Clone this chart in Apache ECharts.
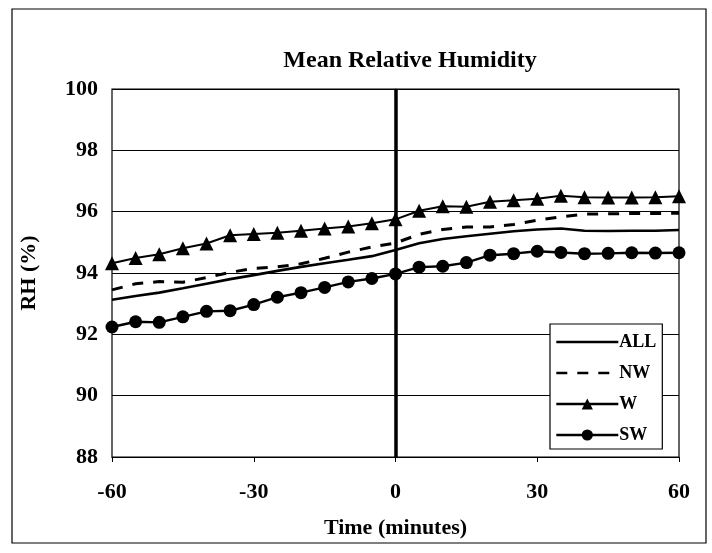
<!DOCTYPE html>
<html>
<head>
<meta charset="utf-8">
<script src="https://cdn.jsdelivr.net/npm/echarts@6/dist/echarts.min.js"></script>
<style>
  html, body { margin: 0; padding: 0; background: #fff; }
  #chart { width: 712px; height: 553px; }
</style>
</head>
<body>
<div id="chart"></div>
<script>
// Minutes relative to the event, sampled every 5 minutes
const minutes = [-60, -55, -50, -45, -40, -35, -30, -25, -20, -15, -10, -5, 0,
                 5, 10, 15, 20, 25, 30, 35, 40, 45, 50, 55, 60];

// Mean relative humidity (%) for each group
const rhAll = [93.13, 93.25, 93.36, 93.5, 93.65, 93.8, 93.93, 94.07, 94.2, 94.32, 94.43, 94.55, 94.75,
               94.97, 95.11, 95.2, 95.28, 95.36, 95.42, 95.45, 95.38, 95.37, 95.38, 95.38, 95.4];
const rhNW  = [93.45, 93.65, 93.72, 93.7, 93.85, 94.02, 94.15, 94.2, 94.3, 94.48, 94.68, 94.85, 94.98,
               95.26, 95.42, 95.5, 95.5, 95.58, 95.72, 95.83, 95.92, 95.93, 95.94, 95.94, 95.95];
const rhW   = [94.32, 94.49, 94.61, 94.81, 94.96, 95.23, 95.27, 95.31, 95.38, 95.45, 95.52, 95.62, 95.75,
               96.03, 96.18, 96.16, 96.32, 96.37, 96.42, 96.52, 96.47, 96.46, 96.46, 96.47, 96.5];
const rhSW  = [92.24, 92.41, 92.39, 92.57, 92.75, 92.77, 92.97, 93.21, 93.36, 93.53, 93.71, 93.82, 93.97,
               94.19, 94.22, 94.34, 94.58, 94.63, 94.71, 94.67, 94.63, 94.64, 94.66, 94.65, 94.66];

const seriesNames = ['ALL', 'NW', 'W', 'SW'];

const serif = '"Liberation Serif", "DejaVu Serif", serif';
const pairs = arr => minutes.map((m, i) => [m, arr[i]]);

// plain-line series get a legend entry without a marker
const noMarker = { color: 'rgba(0,0,0,0)', opacity: 0, borderWidth: 0 };

const chart = echarts.init(document.getElementById('chart'), null, { renderer: 'canvas' });

chart.setOption({
  backgroundColor: '#ffffff',
  animation: false,
  title: {
    text: 'Mean Relative Humidity',
    left: 405,
    textAlign: 'center',
    top: 44,
    textStyle: { fontFamily: serif, fontWeight: 'bold', fontSize: 24, color: '#000' }
  },
  graphic: [{
    type: 'rect',
    shape: { x: 12, y: 9, width: 694, height: 534 },
    style: { fill: 'none', stroke: '#000', lineWidth: 1.2 },
    silent: true,
    z: -10
  }],
  grid: {
    left: 112, right: 33, top: 89, bottom: 96,
    show: true, borderColor: '#000', borderWidth: 1.2, backgroundColor: 'transparent'
  },
  legend: {
    data: [
      { name: seriesNames[0], itemStyle: noMarker },
      { name: seriesNames[1], itemStyle: noMarker },
      { name: seriesNames[2] },
      { name: seriesNames[3] }
    ],
    orient: 'vertical',
    left: 550,
    top: 324,
    itemWidth: 62,
    itemHeight: 14,
    itemGap: 13,
    padding: [9, 6, 5, 5],
    backgroundColor: '#fff',
    borderColor: '#000',
    borderWidth: 1.2,
    borderRadius: 0,
    lineStyle: { width: 2.6 },
    textStyle: { fontFamily: serif, fontWeight: 'bold', fontSize: 18, color: '#000', padding: [0, 0, 0, -4] }
  },
  xAxis: {
    type: 'value',
    min: -60, max: 60, interval: 30,
    name: 'Time (minutes)',
    nameLocation: 'middle',
    nameGap: 60,
    nameTextStyle: { fontFamily: serif, fontWeight: 'bold', fontSize: 22, color: '#000' },
    axisLine: { show: true, onZero: false, lineStyle: { color: '#000', width: 1.2 } },
    axisTick: { show: true, inside: false, length: 5, lineStyle: { color: '#000' } },
    axisLabel: { margin: 24, fontFamily: serif, fontWeight: 'bold', fontSize: 22, color: '#000' },
    splitLine: { show: false }
  },
  yAxis: {
    type: 'value',
    min: 88, max: 100, interval: 2,
    name: 'RH (%)',
    nameLocation: 'middle',
    nameGap: 72,
    nameRotate: 90,
    nameTextStyle: { fontFamily: serif, fontWeight: 'bold', fontSize: 22, color: '#000' },
    axisLine: { show: true, lineStyle: { color: '#000', width: 1.2 } },
    axisTick: { show: true, inside: false, length: 6, lineStyle: { color: '#000' } },
    axisLabel: { margin: 14, fontFamily: serif, fontWeight: 'bold', fontSize: 22, color: '#000' },
    splitLine: { show: true, lineStyle: { color: '#000', width: 1 } }
  },
  series: [
    {
      name: 'ALL',
      type: 'line',
      data: pairs(rhAll),
      showSymbol: false,
      symbol: 'none',
      lineStyle: { color: '#000', width: 2.6 },
      itemStyle: { color: '#000' },
      z: 3,
      markLine: {
        silent: true,
        symbol: ['none', 'none'],
        label: { show: false },
        lineStyle: { color: '#000', width: 3.5, type: 'solid' },
        data: [{ xAxis: 0 }],
        z: 2
      }
    },
    {
      name: 'NW',
      type: 'line',
      data: pairs(rhNW),
      showSymbol: false,
      symbol: 'none',
      lineStyle: { color: '#000', width: 3, type: [11, 10] },
      itemStyle: { color: '#000' },
      z: 3
    },
    {
      name: 'W',
      type: 'line',
      data: pairs(rhW),
      symbol: 'triangle',
      symbolSize: 14,
      lineStyle: { color: '#000', width: 2 },
      itemStyle: { color: '#000' },
      z: 4
    },
    {
      name: 'SW',
      type: 'line',
      data: pairs(rhSW),
      symbol: 'circle',
      symbolSize: 13,
      lineStyle: { color: '#000', width: 2.4 },
      itemStyle: { color: '#000' },
      z: 4
    }
  ]
});
</script>
</body>
</html>
